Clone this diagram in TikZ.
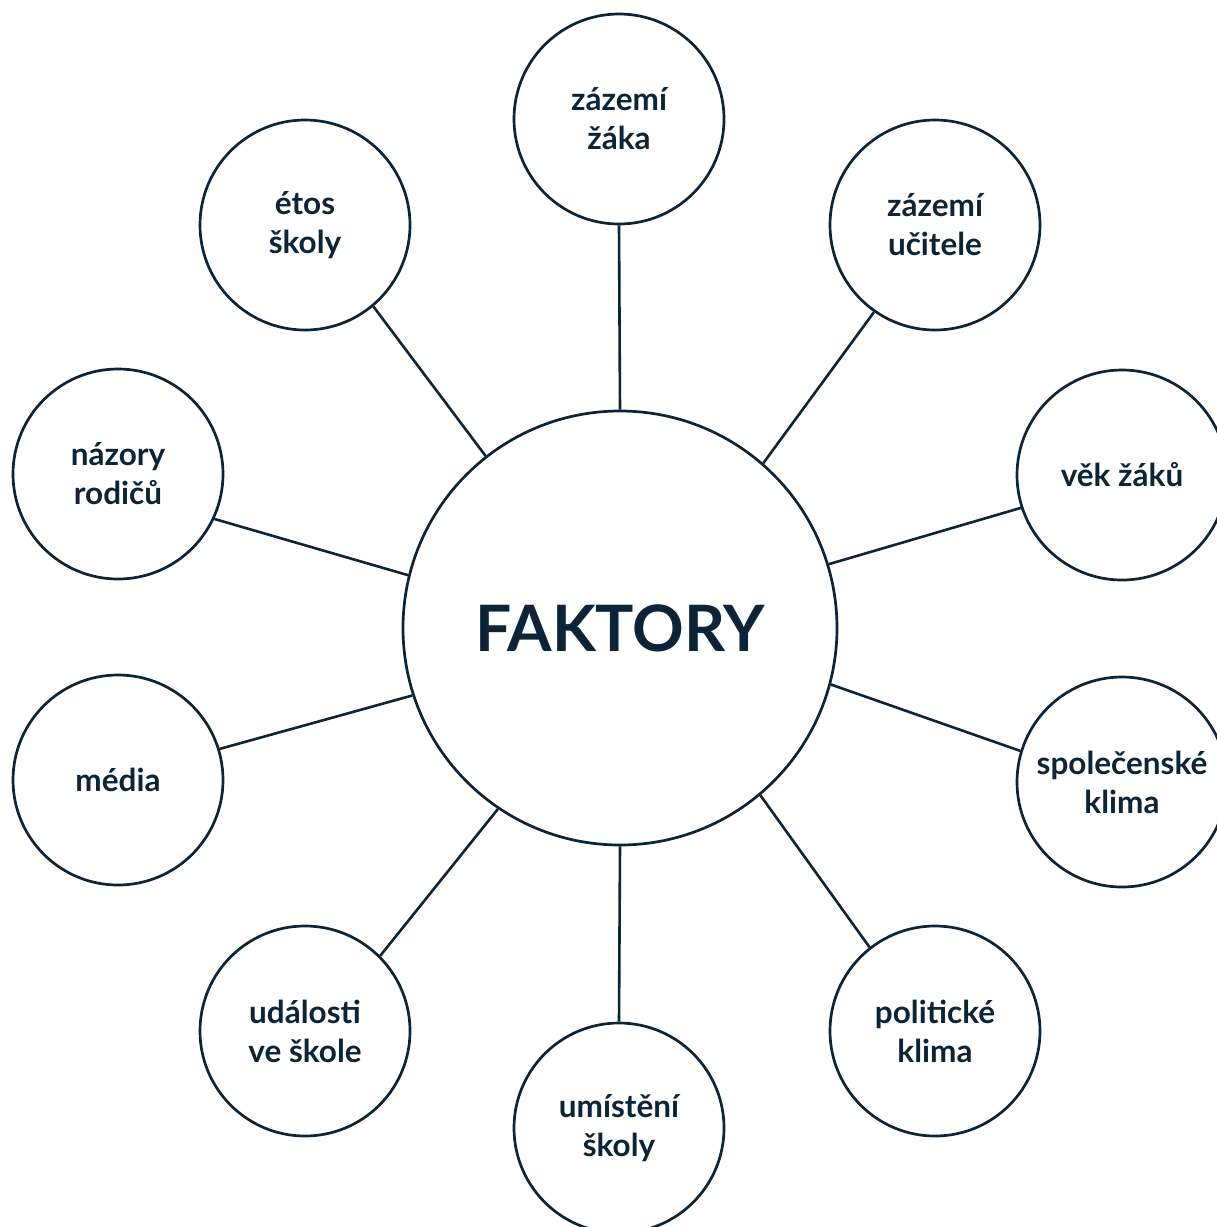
\documentclass[tikz,border=0pt]{standalone}
\usepackage{fontspec}
\setmainfont{Lato}
\definecolor{navy}{RGB}{12,36,56}
\begin{document}
\begin{tikzpicture}[x=1pt,y=-1pt,
  every node/.style={font=\fontsize{31.5}{39}\selectfont\bfseries, text=navy},
  small/.style={circle, draw=navy, line width=2.7pt, minimum size=210pt, inner sep=0pt, align=center, fill=white},
  big/.style={circle, draw=navy, line width=2.7pt, minimum size=434pt, inner sep=0pt, font=\fontsize{64}{72}\selectfont\bfseries},
  link/.style={draw=navy, line width=2.6pt}]
\useasboundingbox (0,0) rectangle (1217,1227);
\clip (0,0) rectangle (1217,1227);
\fill[white] (0,0) rectangle (1217,1227);
\node[big] (c) at (620,628) {FAKTORY};
\node[small] (n1) at (619,119) {zázemí\\žáka};
\node[small] (n2) at (935,225) {zázemí\\učitele};
\node[small] (n3) at (1122,475) {věk žáků};
\node[small] (n4) at (1122,782) {společenské\\klima};
\node[small] (n5) at (935,1031) {politické\\klima};
\node[small] (n6) at (619,1128) {umístění\\školy};
\node[small] (n7) at (305,1031) {události\\ve škole};
\node[small] (n8) at (118,780) {média};
\node[small] (n9) at (118,474) {názory\\rodičů};
\node[small] (n10) at (305,225) {étos\\školy};
\draw[link] (c.90) -- (n1.270);
\draw[link] (c.49.1) -- (n2.235.2);
\draw[link] (c.17.6) -- (n3.198.1);
\draw[link] (c.-15.9) -- (n4.163.3);
\draw[link] (c.-50.6) -- (n5.128);
\draw[link] (c.270) -- (n6.90);
\draw[link] (c.236.6) -- (n7.45);
\draw[link] (c.198.4) -- (n8.17.6);
\draw[link] (c.166.7) -- (n9.-25.8);
\draw[link] (c.128.9) -- (n10.-50.7);
\end{tikzpicture}
\end{document}
